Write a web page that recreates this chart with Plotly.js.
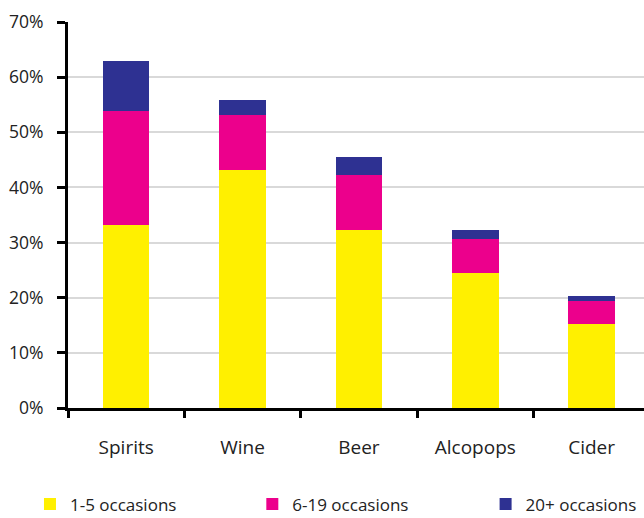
<!DOCTYPE html>
<html><head><meta charset="utf-8">
<script src="https://cdn.plot.ly/plotly-3.0.1.min.js"></script>
<style>html,body{margin:0;padding:0;overflow:hidden;background:#fff}</style>
</head><body>
<div id="chart" style="width:644px;height:518px"></div>
<script>
const categories = ["Spirits", "Wine", "Beer", "Alcopops", "Cider"];
const occ1to5 = [33.1, 43.2, 32.3, 24.5, 15.2];
const occ6to19 = [20.8, 10.0, 10.0, 6.2, 4.2];
const occ20plus = [9.1, 2.7, 3.3, 1.6, 0.9];
const seriesNames = ["1-5 occasions", "6-19 occasions", "20+ occasions"];
const yTickVals = [0, 10, 20, 30, 40, 50, 60, 70];
const yTickText = ["0%", "10%", "20%", "30%", "40%", "50%", "60%", "70%"];

const colors = ["#FFF000", "#EC008C", "#2E3192"];
const legendIds = ["legend", "legend2", "legend3"];
const series = [occ1to5, occ6to19, occ20plus];
const traces = series.map((vals, i) => ({
  type: "bar", x: categories, y: vals, name: seriesNames[i],
  marker: {color: colors[i], line: {width: 0}}, width: 0.4,
  legend: legendIds[i], hoverinfo: "skip"
}));

const fontFam = "Open Sans, DejaVu Sans, sans-serif";
function legendAt(x) {
  return {orientation: "h", x: x, xanchor: "left", y: -0.25, yanchor: "middle",
          font: {size: 17, color: "#222", family: fontFam}, bgcolor: "rgba(0,0,0,0)"};
}
const layout = {
  width: 644, height: 518,
  margin: {l: 68, r: 0, t: 22, b: 110, autoexpand: false},
  barmode: "stack",
  plot_bgcolor: "#fff", paper_bgcolor: "#fff",
  font: {family: fontFam, color: "#222"},
  showlegend: true,
  legend: legendAt(-0.066),
  legend2: legendAt(0.32),
  legend3: legendAt(0.725),
  xaxis: {range: [-0.5, 4.45], showline: true, linecolor: "#000", linewidth: 3,
          ticks: "outside", tickson: "boundaries", ticklen: 7, tickwidth: 3, tickcolor: "#000",
          showgrid: false, tickfont: {size: 19, color: "#222"}, ticklabelstandoff: 20,
          fixedrange: true},
  yaxis: {range: [0, 70], tickvals: yTickVals, ticktext: yTickText,
          showline: true, linecolor: "#000", linewidth: 3,
          ticks: "outside", ticklen: 8, tickwidth: 3, tickcolor: "#000",
          showgrid: true, gridcolor: "#d9d9d9", gridwidth: 2, zeroline: false,
          tickfont: {size: 17.5, color: "#222"}, ticklabelstandoff: 10, fixedrange: true}
};
Plotly.newPlot("chart", traces, layout, {displayModeBar: false, staticPlot: true});
</script>
</body></html>
